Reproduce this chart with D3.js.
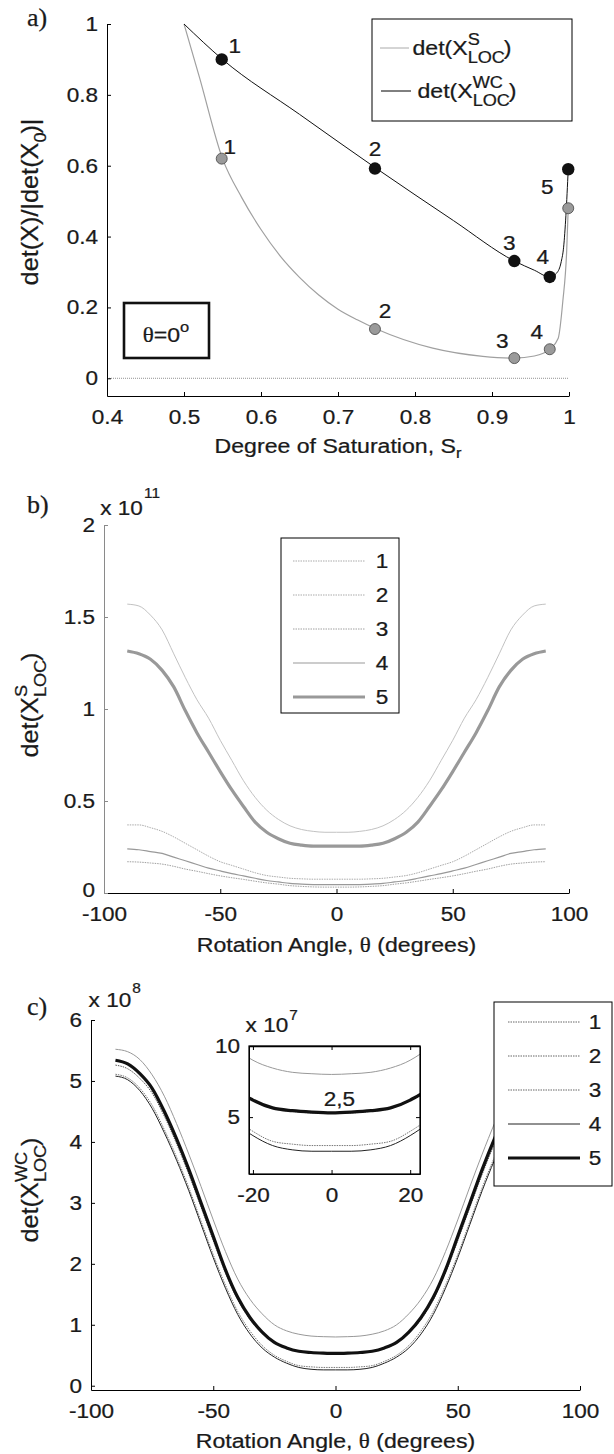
<!DOCTYPE html>
<html>
<head>
<meta charset="utf-8">
<title>det(X) against saturation and rotation angle</title>
<script src="https://cdn.jsdelivr.net/npm/d3@7"></script>
<style>
  body { margin: 0; background: #fff; }
  svg { display: block; }
  text { font-family: "Liberation Sans", Arial, sans-serif; fill: #1a1a1a; stroke: #1a1a1a; stroke-width: 0.25px; }
  .wide { transform-box: fill-box; transform-origin: center; transform: scaleX(1.1); }
  .wideR { transform-box: fill-box; transform-origin: right center; transform: scaleX(1.1); }
  .serif { font-family: "Liberation Serif", "Times New Roman", serif; }
</style>
</head>
<body>
<script>
// ---- panel a : det ratio against degree of saturation
const satS = [0.50, 0.52, 0.55, 0.575, 0.60, 0.625, 0.65, 0.675, 0.70, 0.725, 0.75, 0.823, 0.888, 0.929, 0.955, 0.975, 0.986, 0.992, 0.997, 0.999];
const detS = [1.00, 0.85, 0.62, 0.51, 0.42, 0.345, 0.285, 0.235, 0.195, 0.165, 0.139, 0.085, 0.062, 0.057, 0.063, 0.082, 0.113, 0.218, 0.36, 0.48];
const satW = [0.50, 0.55, 0.65, 0.75, 0.85, 0.929, 0.955, 0.975, 0.984, 0.990, 0.993, 0.996, 0.999];
const detW = [1.00, 0.90, 0.745, 0.592, 0.445, 0.331, 0.305, 0.286, 0.297, 0.33, 0.37, 0.46, 0.59];
const ptSat = [0.549, 0.748, 0.929, 0.975, 0.999];
const ptS = [0.62, 0.139, 0.057, 0.082, 0.48];
const ptW = [0.90, 0.592, 0.331, 0.286, 0.59];
const pointLabels = ["1", "2", "3", "4", "5"];
const aXTicks = [0.4, 0.5, 0.6, 0.7, 0.8, 0.9, 1];
const aYTicks = [0, 0.2, 0.4, 0.6, 0.8, 1];

// ---- panels b and c : against rotation angle
const angles = [-90,-85,-80,-75,-70,-65,-60,-55,-50,-45,-40,-35,-30,-25,-20,-15,-10,-5,0,5,10,15,20,25,30,35,40,45,50,55,60,65,70,75,80,85,90];
// det(X^S_LOC), x 1e11
const b1 = [1.57,1.56,1.51,1.43,1.30,1.17,1.05,0.95,0.83,0.72,0.61,0.52,0.45,0.40,0.365,0.345,0.335,0.33,0.33,0.33,0.335,0.345,0.365,0.40,0.45,0.52,0.61,0.72,0.83,0.95,1.05,1.17,1.30,1.43,1.51,1.56,1.57];
const b2 = [0.37,0.37,0.355,0.335,0.305,0.27,0.235,0.20,0.17,0.15,0.13,0.11,0.095,0.087,0.08,0.077,0.075,0.075,0.075,0.075,0.075,0.077,0.08,0.087,0.095,0.11,0.13,0.15,0.17,0.20,0.235,0.27,0.305,0.335,0.355,0.37,0.37];
const b3 = [0.17,0.168,0.163,0.157,0.145,0.13,0.118,0.105,0.093,0.083,0.074,0.064,0.055,0.048,0.04,0.036,0.033,0.032,0.032,0.032,0.033,0.036,0.04,0.048,0.055,0.064,0.074,0.083,0.093,0.105,0.118,0.13,0.145,0.157,0.163,0.168,0.17];
const b4 = [0.24,0.235,0.225,0.215,0.195,0.175,0.155,0.135,0.12,0.105,0.093,0.08,0.068,0.06,0.052,0.048,0.046,0.045,0.045,0.045,0.046,0.048,0.052,0.06,0.068,0.08,0.093,0.105,0.12,0.135,0.155,0.175,0.195,0.215,0.225,0.235,0.24];
const b5 = [1.315,1.30,1.27,1.21,1.12,0.99,0.87,0.765,0.66,0.56,0.47,0.385,0.33,0.295,0.27,0.26,0.255,0.255,0.255,0.255,0.255,0.26,0.27,0.295,0.33,0.385,0.47,0.56,0.66,0.765,0.87,0.99,1.12,1.21,1.27,1.30,1.315];
// det(X^WC_LOC), x 1e8
const c1 = [5.52,5.48,5.35,5.1,4.75,4.3,3.8,3.27,2.72,2.2,1.75,1.42,1.18,1.00,0.90,0.845,0.815,0.805,0.80,0.805,0.815,0.845,0.90,1.00,1.18,1.42,1.75,2.2,2.72,3.27,3.8,4.3,4.75,5.1,5.35,5.48,5.52];
const c2 = [5.26,5.2,5.04,4.8,4.42,3.97,3.47,2.93,2.38,1.85,1.41,1.09,0.86,0.70,0.615,0.56,0.54,0.53,0.53,0.53,0.54,0.56,0.615,0.70,0.86,1.09,1.41,1.85,2.38,2.93,3.47,3.97,4.42,4.8,5.04,5.2,5.26];
const c3 = [5.11,5.05,4.88,4.6,4.2,3.75,3.25,2.7,2.15,1.65,1.22,0.90,0.66,0.50,0.40,0.33,0.31,0.30,0.30,0.30,0.31,0.33,0.40,0.50,0.66,0.90,1.22,1.65,2.15,2.7,3.25,3.75,4.2,4.6,4.88,5.05,5.11];
const c4 = [5.08,5.02,4.84,4.55,4.15,3.7,3.2,2.65,2.1,1.6,1.17,0.85,0.62,0.47,0.37,0.30,0.27,0.26,0.26,0.26,0.27,0.30,0.37,0.47,0.62,0.85,1.17,1.6,2.1,2.65,3.2,3.7,4.15,4.55,4.84,5.02,5.08];
const c5 = [5.34,5.28,5.12,4.88,4.5,4.05,3.55,3.0,2.45,1.9,1.45,1.12,0.88,0.71,0.62,0.565,0.545,0.535,0.53,0.535,0.545,0.565,0.62,0.71,0.88,1.12,1.45,1.9,2.45,3.0,3.55,4.05,4.5,4.88,5.12,5.28,5.34];
const seriesNames = ["1", "2", "3", "4", "5"];
const thetaTicks = [-100, -50, 0, 50, 100];
const bYTicks = [0, 0.5, 1, 1.5, 2];
const cYTicks = [0, 1, 2, 3, 4, 5, 6];
const insetXTicks = [-20, 0, 20];
const insetYTicks = [5, 10];

const svg = d3.select("body").append("svg").attr("width", 614).attr("height", 1454);
const line = d3.line().curve(d3.curveMonotoneX);
const FS = 20.5;

// text with a stacked super/subscript, built at the origin (start anchor)
function detText(parent, base, sup, sub, tail, fs, ss) {
  let t = parent.append("text").attr("class", "wide").attr("font-size", fs);
  let b = t.append("tspan").attr("x", 0).attr("y", 0).text(base);
  let w0 = b.node().getComputedTextLength();
  let w1 = 0;
  if (sup) {
    let s = t.append("tspan").attr("x", w0).attr("y", -0.46 * fs).attr("font-size", ss).text(sup);
    w1 = Math.max(w1, s.node().getComputedTextLength());
  }
  if (sub) {
    let s = t.append("tspan").attr("x", w0).attr("y", 0.36 * fs).attr("font-size", ss).text(sub);
    w1 = Math.max(w1, s.node().getComputedTextLength());
  }
  if (tail) t.append("tspan").attr("x", w0 + w1 - 1).attr("y", 0).text(tail);
  return t;
}

function yTitle(x, y, base, sup, sub, tail) {
  let g = svg.append("g").attr("transform", `translate(${x},${y}) rotate(-90)`);
  let inner = g.append("g");
  let t = detText(inner, base, sup, sub, tail, 23, 16.5);
  let w = t.node().getBBox().width;
  inner.attr("transform", `translate(${-w / 2},0)`);
}

function styleAxis(g, color, right) {
  g.attr("font-size", FS).attr("font-family", null).attr("color", color);
  g.select(".domain").attr("stroke-width", 1);
  g.selectAll(".tick text").attr("class", right ? "wideR" : "wide");
}

function axes(box, x, y, xTicks, yTicks, yColor) {
  svg.append("g").attr("transform", `translate(0,${box.b})`)
    .call(d3.axisBottom(x).tickValues(xTicks).tickSizeInner(-4).tickSizeOuter(0)
      .tickPadding(13).tickFormat(d => String(d)))
    .call(g => styleAxis(g, "#000", false));
  return svg.append("g").attr("transform", `translate(${box.l},0)`)
    .call(d3.axisLeft(y).tickValues(yTicks).tickSizeInner(-4).tickSizeOuter(0)
      .tickPadding(9).tickFormat(d => String(d)))
    .call(g => styleAxis(g, yColor, true));
}

function xTitle(cx, baseline, parts) {
  let t = svg.append("text").attr("class", "wide").attr("font-size", 21)
    .attr("x", cx).attr("y", baseline).attr("text-anchor", "middle");
  parts(t);
}

function panelLabel(txt, x, y) {
  svg.append("text").attr("class", "serif").attr("font-size", 26).attr("x", x).attr("y", y).text(txt);
}

function exponent(x, y, pow, rise) {
  let t = svg.append("text").attr("class", "wide").attr("font-size", FS).attr("x", x).attr("y", y);
  t.append("tspan").text("x 10");
  t.append("tspan").attr("font-size", 14).attr("dy", -rise).attr("dx", 1).text(pow);
}

// ================= panel a =================
const A = {l: 107, r: 569, t: 24, b: 396};
const xa = d3.scaleLinear().domain([0.4, 1]).range([A.l, A.r]);
const ya = d3.scaleLinear().domain([-0.05, 1]).range([A.b, A.t]);

svg.append("line").attr("x1", xa(0.4)).attr("x2", xa(1)).attr("y1", ya(0)).attr("y2", ya(0))
  .attr("stroke", "#777").attr("stroke-width", 0.8).attr("stroke-dasharray", "1,1");

svg.append("path").attr("d", line(satS.map((s, i) => [xa(s), ya(detS[i])])))
  .attr("fill", "none").attr("stroke", "#a0a0a0").attr("stroke-width", 1.2);
svg.append("path").attr("d", line(satW.map((s, i) => [xa(s), ya(detW[i])])))
  .attr("fill", "none").attr("stroke", "#111").attr("stroke-width", 1);

// label offsets of the numbered points (layout only)
const offW = [[13, -14], [0, -20], [-5, -18], [-7, -20], [-21, 17]];
const offS = [[8, -12], [10, -18], [-12, -17], [-13, -18], null];

svg.selectAll("circle.ptS").data(ptSat).enter().append("circle").attr("class", "ptS")
  .attr("cx", d => xa(d)).attr("cy", (d, i) => ya(ptS[i])).attr("r", 5.5)
  .attr("fill", "#9a9a9a").attr("stroke", "#444").attr("stroke-width", 0.8);
svg.selectAll("circle.ptW").data(ptSat).enter().append("circle").attr("class", "ptW")
  .attr("cx", d => xa(d)).attr("cy", (d, i) => ya(ptW[i])).attr("r", 6.2)
  .attr("fill", "#111");

pointLabels.forEach((lab, i) => {
  svg.append("text").attr("class", "wide").attr("font-size", FS).attr("text-anchor", "middle")
    .attr("x", xa(ptSat[i]) + offW[i][0]).attr("y", ya(ptW[i]) + offW[i][1]).attr("dy", "0.36em").text(lab);
  if (offS[i]) {
    svg.append("text").attr("class", "wide").attr("font-size", FS).attr("text-anchor", "middle")
      .attr("x", xa(ptSat[i]) + offS[i][0]).attr("y", ya(ptS[i]) + offS[i][1]).attr("dy", "0.36em").text(lab);
  }
});

axes(A, xa, ya, aXTicks, aYTicks, "#000");

// legend a
svg.append("rect").attr("x", 372).attr("y", 19).attr("width", 200).attr("height", 102)
  .attr("fill", "#fff").attr("stroke", "#000").attr("stroke-width", 1);
svg.append("line").attr("x1", 380).attr("x2", 409).attr("y1", 48).attr("y2", 48).attr("stroke", "#aaa");
svg.append("line").attr("x1", 381).attr("x2", 411).attr("y1", 91).attr("y2", 91).attr("stroke", "#000");
detText(svg.append("g").attr("transform", "translate(417,55)"), "det(X", "S", "LOC", ")", 21, 16.5);
detText(svg.append("g").attr("transform", "translate(422,98)"), "det(X", "WC", "LOC", ")", 21, 16.5);

// theta box
svg.append("rect").attr("x", 124).attr("y", 303).attr("width", 85).attr("height", 55)
  .attr("fill", "none").attr("stroke", "#111").attr("stroke-width", 2.6);
{
  let t = svg.append("text").attr("class", "wide").attr("font-size", 21).attr("x", 166).attr("y", 342)
    .attr("text-anchor", "middle");
  t.append("tspan").attr("class", "serif").text("θ");
  t.append("tspan").text("=0");
  t.append("tspan").attr("font-size", 15).attr("dy", -10).text("o");
}

xTitle((A.l + A.r) / 2, 453, t => {
  t.append("tspan").text("Degree of Saturation, S");
  t.append("tspan").attr("font-size", 15).attr("dy", 5).text("r");
});
yTitle(38, 202, "det(X)/|det(X", null, "0", ")|");
panelLabel("a)", 27, 26);

// ================= panel b =================
const B = {l: 104, r: 569, t: 525, b: 893};
const xb = d3.scaleLinear().domain([-100, 100]).range([B.l, B.r]);
const yb = d3.scaleLinear().domain([0, 2]).range([B.b, B.t]);
const bSeries = [
  {v: b1, color: "#c2c2c2", w: 1, dash: null},
  {v: b2, color: "#aaa", w: 1, dash: "1.5,1"},
  {v: b3, color: "#a0a0a0", w: 1, dash: "1.5,1"},
  {v: b4, color: "#999", w: 1.2, dash: null},
  {v: b5, color: "#999", w: 3.2, dash: null}
];
bSeries.forEach(s => {
  svg.append("path").attr("d", line(angles.map((a, i) => [xb(a), yb(s.v[i])])))
    .attr("fill", "none").attr("stroke", s.color).attr("stroke-width", s.w)
    .attr("stroke-dasharray", s.dash);
});
axes(B, xb, yb, thetaTicks, bYTicks, "#8a8a8a")
  .selectAll(".tick text").filter(d => d === 0).attr("y", -3);

// legend b
svg.append("rect").attr("x", 281).attr("y", 538).attr("width", 118).attr("height", 175)
  .attr("fill", "#fff").attr("stroke", "#000").attr("stroke-width", 1);
bSeries.forEach((s, i) => {
  let y = 561 + i * 34;
  svg.append("line").attr("x1", 293).attr("x2", 365).attr("y1", y).attr("y2", y)
    .attr("stroke", s.color === "#c2c2c2" ? "#aaa" : s.color).attr("stroke-width", s.w)
    .attr("stroke-dasharray", i < 3 ? "1.5,1" : null);
  svg.append("text").attr("class", "wide").attr("font-size", FS).attr("text-anchor", "middle")
    .attr("x", 382).attr("y", y).attr("dy", "0.36em").text(seriesNames[i]);
});

exponent(103, 515, "11", 17);
xTitle((B.l + B.r) / 2, 952, t => {
  t.append("tspan").text("Rotation Angle, ");
  t.append("tspan").attr("class", "serif").text("θ");
  t.append("tspan").text(" (degrees)");
});
yTitle(38, 705, "det(X", "S", "LOC", ")");
panelLabel("b)", 27, 513);

// ================= panel c =================
const C = {l: 91, r: 580, t: 1020, b: 1390};
const xc = d3.scaleLinear().domain([-100, 100]).range([C.l, C.r]);
const yc = d3.scaleLinear().domain([-0.07, 6]).range([C.b, C.t]);
const cSeries = [
  {v: c1, color: "#999", w: 1, dash: null},
  {v: c2, color: "#555", w: 1, dash: "1.5,1"},
  {v: c3, color: "#777", w: 1, dash: "1.5,1"},
  {v: c4, color: "#222", w: 1, dash: null},
  {v: c5, color: "#111", w: 3.2, dash: null}
];
cSeries.forEach(s => {
  svg.append("path").attr("d", line(angles.map((a, i) => [xc(a), yc(s.v[i])])))
    .attr("fill", "none").attr("stroke", s.color).attr("stroke-width", s.w)
    .attr("stroke-dasharray", s.dash);
});
axes(C, xc, yc, thetaTicks, cYTicks, "#000");

// inset (x 1e7)
const I = {l: 249, r: 420, t: 1046, b: 1174};
const xi = d3.scaleLinear().domain([-21, 22.5]).range([I.l, I.r]);
const yi = d3.scaleLinear().domain([1, 10]).range([I.b, I.t]);
svg.append("defs").append("clipPath").attr("id", "insetClip").append("rect")
  .attr("x", I.l).attr("y", I.t).attr("width", I.r - I.l).attr("height", I.b - I.t);
svg.append("rect").attr("x", I.l).attr("y", I.t).attr("width", I.r - I.l).attr("height", I.b - I.t)
  .attr("fill", "#fff");
const ig = svg.append("g").attr("clip-path", "url(#insetClip)");
cSeries.forEach(s => {
  ig.append("path").attr("d", line(angles.map((a, i) => [xi(a), yi(s.v[i] * 10)])))
    .attr("fill", "none").attr("stroke", s.color).attr("stroke-width", s.w)
    .attr("stroke-dasharray", s.dash);
});
axes(I, xi, yi, insetXTicks, insetYTicks, "#000");
svg.append("g").attr("transform", `translate(0,${I.t})`)
  .call(d3.axisTop(xi).tickValues(insetXTicks).tickSizeInner(-4).tickSizeOuter(0).tickFormat(""))
  .call(g => g.select(".domain").attr("stroke-width", 1.6));
svg.append("g").attr("transform", `translate(${I.r},0)`)
  .call(d3.axisRight(yi).tickValues(insetYTicks).tickSizeInner(-4).tickSizeOuter(0).tickFormat(""));
svg.append("rect").attr("x", I.l).attr("y", I.t).attr("width", I.r - I.l).attr("height", I.b - I.t)
  .attr("fill", "none").attr("stroke", "#000").attr("stroke-width", 1.2);
svg.append("text").attr("class", "wide").attr("font-size", FS).attr("text-anchor", "middle")
  .attr("x", xi(2)).attr("y", yi(5.75)).text("2,5");
exponent(248, 1032, "7", 12);

// legend c
svg.append("rect").attr("x", 494).attr("y", 1002).attr("width", 118).attr("height", 184)
  .attr("fill", "#fff").attr("stroke", "#000").attr("stroke-width", 1);
cSeries.forEach((s, i) => {
  let y = 1022 + i * 34;
  svg.append("line").attr("x1", 508).attr("x2", 580).attr("y1", y).attr("y2", y)
    .attr("stroke", i < 3 ? "#666" : s.color).attr("stroke-width", s.w)
    .attr("stroke-dasharray", i < 3 ? "1.5,1" : null);
  svg.append("text").attr("class", "wide").attr("font-size", FS).attr("text-anchor", "middle")
    .attr("x", 595).attr("y", y).attr("dy", "0.36em").text(seriesNames[i]);
});

exponent(91, 1007, "8", 14);
xTitle((C.l + C.r) / 2, 1448, t => {
  t.append("tspan").text("Rotation Angle, ");
  t.append("tspan").attr("class", "serif").text("θ");
  t.append("tspan").text(" (degrees)");
});
yTitle(38, 1190, "det(X", "WC", "LOC", ")");
panelLabel("c)", 27, 1015);
</script>
</body>
</html>
